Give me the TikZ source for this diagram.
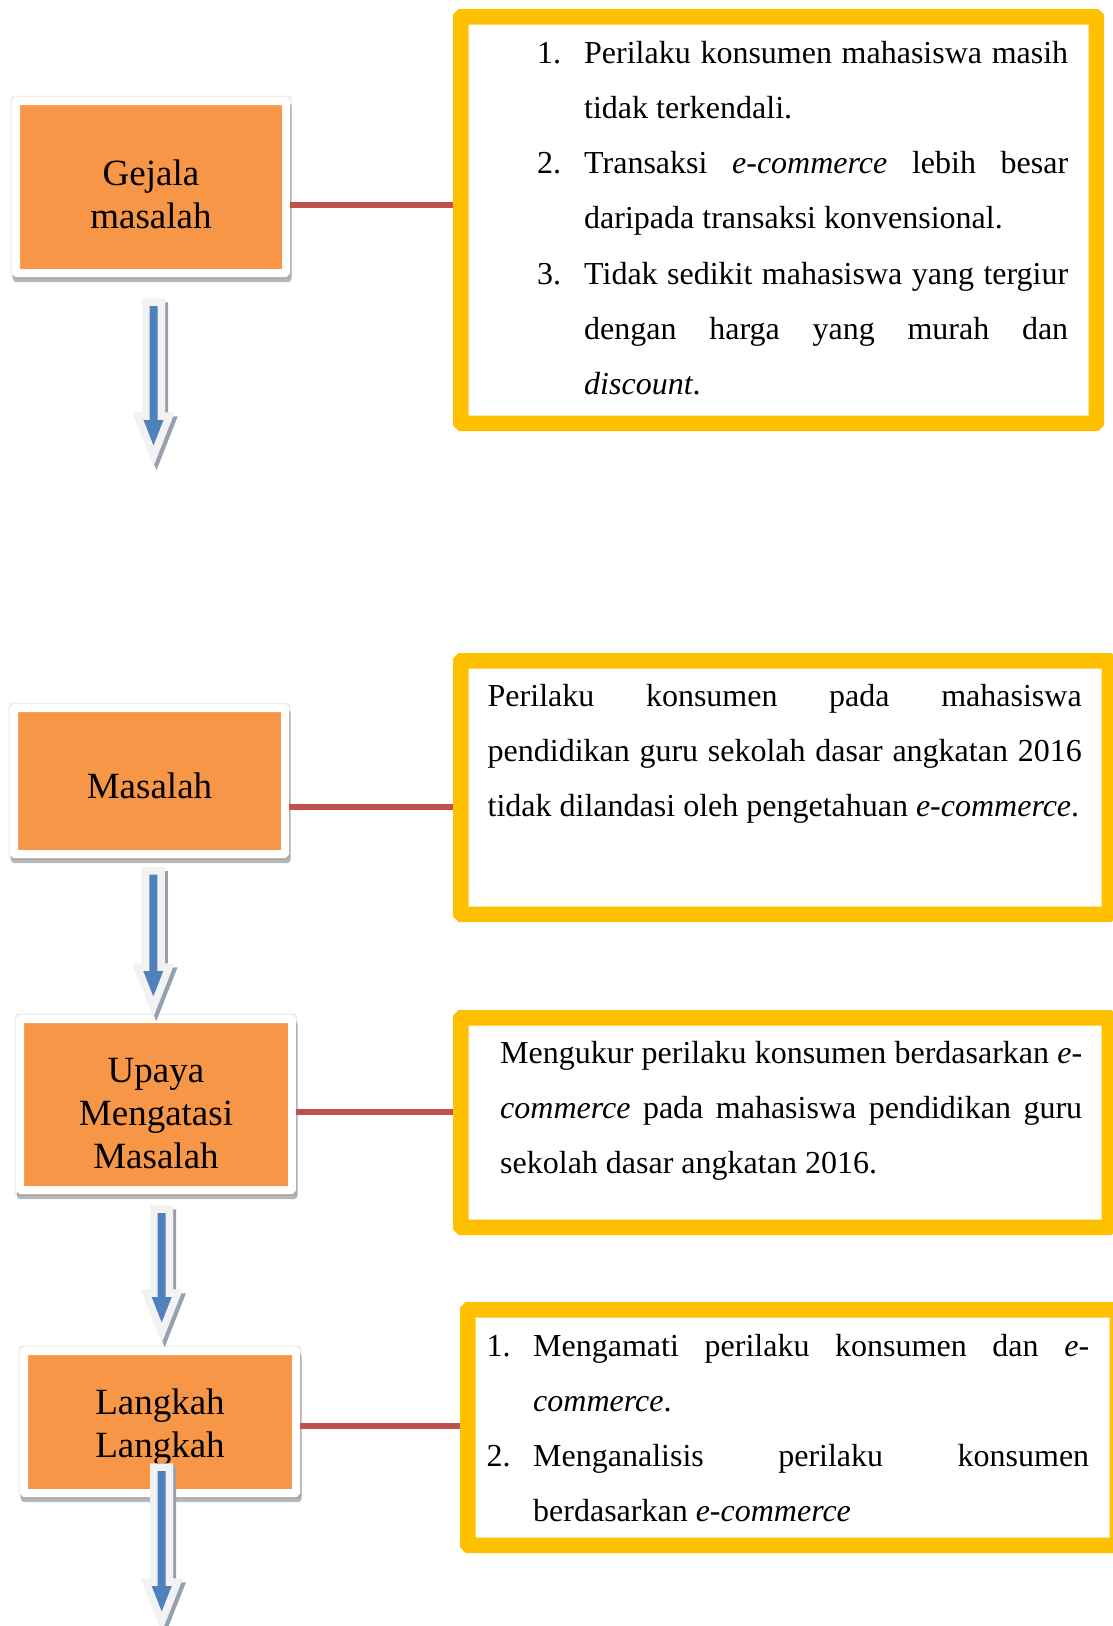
\documentclass[tikz,border=0pt]{standalone}
\usepackage{fontspec}
\setmainfont{Liberation Serif}
\usetikzlibrary{calc,backgrounds}
\definecolor{boxorange}{HTML}{F79646}
\definecolor{frameyellow}{HTML}{FFC000}
\definecolor{linered}{HTML}{C0504D}
\definecolor{arrowblue}{HTML}{4F81BD}
\definecolor{arrowrim}{HTML}{F2F2F2}
\definecolor{arrowshade}{RGB}{150,160,175}
\newcommand\wordspace{\spaceskip=8pt plus 80pt minus 1.5pt\xspaceskip=8pt plus 80pt minus 1.5pt\relax}
\tikzset{
  stagebox/.style={rectangle, fill=boxorange, draw=white, line width=8pt, rounded corners=1pt, inner sep=0pt},
  stagehalo/.style={fill=black, opacity=0.07, rounded corners=3pt},
  stageshadow/.style={fill=black, opacity=0.28, rounded corners=3pt},
  stagelabel/.style={text width=260pt, align=center, inner sep=0pt, anchor=base, font=\fontsize{37}{43}\selectfont},
  infobox/.style={rectangle, fill=white, draw=frameyellow, line width=15.5pt, rounded corners=1pt, inner sep=0pt},
  infotext/.style={inner sep=0pt, anchor=base west, font=\fontsize{32}{55.3}\selectfont},
  linkline/.style={draw=linered, line width=5.5pt},
  arrowbody/.style={fill=arrowblue, draw=arrowrim, line width=7.5pt, miter limit=10},
  arrowshadow/.style={fill=arrowshade, draw=arrowshade, line width=7.5pt, miter limit=10},
}
\newcommand\flowarrow[2]{%
  \path[arrowshadow] let \p1=(#1), \p2=(#2) in
    (\x1-4.75pt,\y1-4pt) -- (\x1+10.75pt,\y1-4pt) -- (\x1+10.75pt,\y2+36pt) -- (\x1+18.75pt,\y2+36pt)
    -- (\x1+3pt,\y2-4pt) -- (\x1-12.75pt,\y2+36pt) -- (\x1-4.75pt,\y2+36pt) -- cycle;
  \path[arrowbody] let \p1=(#1), \p2=(#2) in
    (\x1-7.75pt,\y1) -- (\x1+7.75pt,\y1) -- (\x1+7.75pt,\y2+40pt) -- (\x1+15.75pt,\y2+40pt)
    -- (\x1,\y2) -- (\x1-15.75pt,\y2+40pt) -- (\x1-7.75pt,\y2+40pt) -- cycle;
}
\newcommand\stageshade[1]{%
  \fill[stagehalo] ([xshift=-1.5pt,yshift=-2pt]#1.south west) rectangle ([xshift=1.5pt,yshift=1.5pt]#1.north east);
  \fill[stageshadow] ([xshift=1pt,yshift=-5pt]#1.south west) rectangle ([xshift=1.5pt,yshift=-6pt]#1.north east);
}
\begin{document}
\begin{tikzpicture}[x=1pt, y=-1pt]
\useasboundingbox (0,0) rectangle (1113,1626);

% stage boxes
\node[stagebox, minimum width=270pt, minimum height=172pt] (g) at (151,187) {};
\node[stagebox, minimum width=271pt, minimum height=146pt] (m) at (149.5,781) {};
\node[stagebox, minimum width=272pt, minimum height=171pt] (u) at (156,1104.5) {};
\node[stagebox, minimum width=272pt, minimum height=142pt] (l) at (160,1422) {};
\begin{scope}[on background layer]
\stageshade{g}
\stageshade{m}
\stageshade{u}
\stageshade{l}
\end{scope}

\node[stagelabel] (gl) at ([yshift=2pt]g.center) {Gejala\\masalah};
\node[stagelabel] (ml) at ([yshift=-17pt]m.center) {Masalah};
\node[stagelabel] (ul) at ([yshift=22.5pt]u.center) {Upaya\\Mengatasi\\Masalah};
\node[stagelabel] (ll) at ([yshift=8pt]l.center) {Langkah\\Langkah};

% info boxes
\node[infobox, minimum width=635.5pt, minimum height=406.5pt] (t1) at (778.5,220) {};
\node[infobox, minimum width=648.5pt, minimum height=253.5pt] (t2) at (785,787.5) {};
\node[infobox, minimum width=648.5pt, minimum height=209.5pt] (t3) at (785,1122.5) {};
\node[infobox, minimum width=649.5pt, minimum height=235.5pt] (t4) at (792.5,1427.5) {};

\node[infotext, text width=531pt] (tx1) at (537,63) {\wordspace
\makebox[47pt][l]{1.}\makebox[484pt][s]{Perilaku konsumen mahasiswa masih}\\
\hspace*{47pt}tidak terkendali.\\
\makebox[47pt][l]{2.}\makebox[484pt][s]{Transaksi \textit{e-commerce} lebih besar}\\
\hspace*{47pt}daripada transaksi konvensional.\\
\makebox[47pt][l]{3.}\makebox[484pt][s]{Tidak sedikit mahasiswa yang tergiur}\\
\hspace*{47pt}\makebox[484pt][s]{dengan harga yang murah dan}\\
\hspace*{47pt}\textit{discount}.};

\node[infotext, text width=594pt] (tx2) at (487.5,706) {\wordspace
\makebox[594pt][s]{Perilaku konsumen pada mahasiswa}\\
\makebox[594pt][s]{pendidikan guru sekolah dasar angkatan 2016}\\
tidak dilandasi oleh pengetahuan \textit{e-commerce}.};

\node[infotext, text width=582pt] (tx3) at (500,1063) {\wordspace
\makebox[582pt][s]{Mengukur perilaku konsumen berdasarkan \textit{e-}}\\
\makebox[582pt][s]{\textit{commerce} pada mahasiswa pendidikan guru}\\
sekolah dasar angkatan 2016.};

\node[infotext, text width=602.5pt] (tx4) at (486.5,1356) {\wordspace
\makebox[46.5pt][l]{1.}\makebox[556pt][s]{Mengamati perilaku konsumen dan \textit{e-}}\\
\hspace*{46.5pt}\textit{commerce}.\\
\makebox[46.5pt][l]{2.}\makebox[556pt][s]{Menganalisis perilaku konsumen}\\
\hspace*{46.5pt}berdasarkan \textit{e-commerce}};

% red links
\path ($(g.east)+(0,18)$) coordinate (r1);
\path ($(m.east)+(0,26)$) coordinate (r2);
\path ($(u.east)+(0,7.5)$) coordinate (r3);
\path ($(l.east)+(0,4)$) coordinate (r4);
\draw[linkline] (r1) -- (r1 -| t1.west);
\draw[linkline] (r2) -- (r2 -| t2.west);
\draw[linkline] (r3) -- (r3 -| t3.west);
\draw[linkline] (r4) -- (r4 -| t4.west);

% arrows
\coordinate (a1s) at (153.5,302);
\coordinate (a1e) at (153.5,456);
\coordinate (a2s) at (153.3,870.75);
\coordinate (a2e) at (153.3,1007);
\coordinate (a3s) at (161.7,1209);
\coordinate (a3e) at (161.7,1333);
\coordinate (a4s) at (161.7,1467);
\coordinate (a4e) at (161.7,1622);
\flowarrow{a1s}{a1e}
\flowarrow{a2s}{a2e}
\flowarrow{a3s}{a3e}
\flowarrow{a4s}{a4e}
\end{tikzpicture}
\end{document}
